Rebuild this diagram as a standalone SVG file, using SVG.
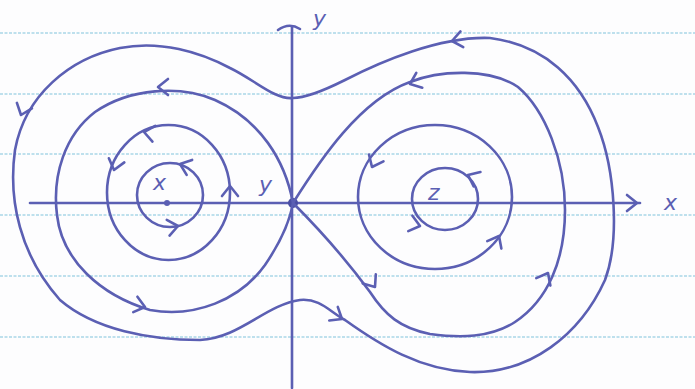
<svg xmlns="http://www.w3.org/2000/svg" width="695" height="389" viewBox="0 0 695 389">
<style>
.paper{stroke:#a9d6e8;stroke-width:1.3;stroke-dasharray:3 1.5}
.ink{fill:none;stroke:#5b5fb3;stroke-width:2.6;stroke-linecap:round;stroke-linejoin:round}
.lbl{fill:#5b5fb3;font-family:"DejaVu Sans",sans-serif;font-style:italic;font-size:22px}
</style>
<defs>
<path id="chev" d="M -10 -8 L 0 0 L -10 8" class="ink"/>
</defs>
<rect width="695" height="389" fill="#fdfdfe"/>
<g id="paper-lines">
<line class="paper" x1="0" y1="33" x2="695" y2="33"/>
<line class="paper" x1="0" y1="94" x2="695" y2="94"/>
<line class="paper" x1="0" y1="154" x2="695" y2="154"/>
<line class="paper" x1="0" y1="215" x2="695" y2="215"/>
<line class="paper" x1="0" y1="276" x2="695" y2="276"/>
<line class="paper" x1="0" y1="337" x2="695" y2="337"/>
</g>
<g id="axes">
<line class="ink" x1="30" y1="203" x2="640" y2="203"/>
<line class="ink" x1="292" y1="388" x2="292" y2="27"/>
<path class="ink" d="M 278 30 Q 289 22 300 29" stroke-width="3.5"/>
<use href="#chev" transform="translate(637,203)"/>
<circle cx="293" cy="203" r="5" fill="#4a4ea3"/>
<text class="lbl" x="313" y="26">y</text>
<text class="lbl" x="664" y="210">x</text>
</g>
<g id="trajectories">
<path id="outer" class="ink" d="M 293 98 C 275 100, 255 80, 230 68 C 200 52, 160 40, 120 48 C 70 58, 25 95, 15 150 C 8 200, 20 255, 60 300 C 95 330, 150 340, 200 340 C 240 338, 265 305, 300 300 C 320 298, 330 312, 345 320 C 380 345, 420 370, 470 372 C 530 374, 580 335, 605 280 C 620 240, 615 170, 598 127 C 580 80, 545 45, 490 38 C 440 36, 380 62, 345 80 C 325 90, 305 98, 293 98 Z"/>
<path id="sep-right" class="ink" d="M 293 203 C 320 160, 360 100, 410 82 C 440 70, 490 68, 518 87 C 545 110, 565 160, 565 210 C 565 260, 548 300, 515 322 C 490 338, 460 338, 430 334 C 400 328, 385 315, 370 292 C 345 258, 315 225, 293 203"/>
<path id="sep-left" class="ink" d="M 293 203 C 285 160, 260 120, 215 100 C 180 85, 130 88, 95 112 C 65 135, 52 175, 57 215 C 62 260, 100 295, 150 310 C 195 318, 240 300, 265 265 C 282 240, 290 220, 293 203"/>
<ellipse class="ink" cx="168.5" cy="192.5" rx="61.5" ry="67.5"/>
<ellipse class="ink" cx="170" cy="195" rx="33" ry="32"/>
<ellipse class="ink" cx="435" cy="197" rx="77" ry="72"/>
<ellipse class="ink" cx="445" cy="199" rx="33" ry="31"/>
</g>
<g id="arrows">
<use href="#chev" transform="translate(452,41) rotate(170)"/>
<use href="#chev" transform="translate(410,84) rotate(158)"/>
<use href="#chev" transform="translate(158,87) rotate(180)"/>
<use href="#chev" transform="translate(21,115) rotate(110)"/>
<use href="#chev" transform="translate(114,170) rotate(105)"/>
<use href="#chev" transform="translate(230,186) rotate(-90)"/>
<use href="#chev" transform="translate(180,164) rotate(200)"/>
<use href="#chev" transform="translate(178,226) rotate(-10)"/>
<use href="#chev" transform="translate(145,307) rotate(15)"/>
<use href="#chev" transform="translate(342,319) rotate(32)"/>
<use href="#chev" transform="translate(375,287) rotate(55)"/>
<use href="#chev" transform="translate(548,273) rotate(-62)"/>
<use href="#chev" transform="translate(372,167) rotate(115)"/>
<use href="#chev" transform="translate(499,236) rotate(-62)"/>
<use href="#chev" transform="translate(468,175) rotate(205)"/>
<use href="#chev" transform="translate(420,226) rotate(15)"/>
<use href="#chev" transform="translate(144,132) rotate(190)"/>
</g>
<g id="labels">
<text class="lbl" x="153" y="190">x</text>
<circle cx="167" cy="203" r="3" fill="#5b5fb3"/>
<text class="lbl" x="428" y="200">z</text>
<text class="lbl" x="259" y="192">y</text>
</g>
</svg>
